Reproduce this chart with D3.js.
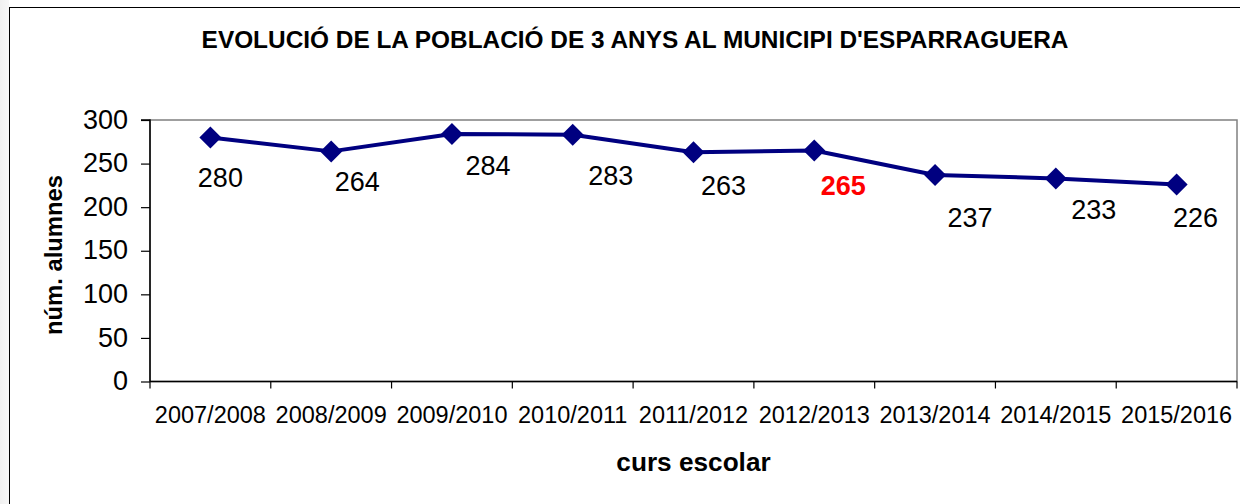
<!DOCTYPE html>
<html>
<head>
<meta charset="utf-8">
<script src="https://cdn.jsdelivr.net/npm/d3@7"></script>
<style>
html,body{margin:0;padding:0;background:#fff;}
svg{display:block;font-family:"Liberation Sans",Arial,sans-serif;}
</style>
</head>
<body>
<svg id="chart" width="1240" height="504"></svg>
<script>
// ---- data ----
const categories = ["2007/2008","2008/2009","2009/2010","2010/2011","2011/2012","2012/2013","2013/2014","2014/2015","2015/2016"];
const values = [280, 264, 284, 283, 263, 265, 237, 233, 226];
const yTicks = [0, 50, 100, 150, 200, 250, 300];
const highlighted = ["2012/2013"];
const titleText = "EVOLUCIÓ DE LA POBLACIÓ DE 3 ANYS AL MUNICIPI D'ESPARRAGUERA";
const yTitle = "núm. alumnes";
const xTitle = "curs escolar";
// label placement offsets (layout, px relative to point)
const labelDx = [10, 26, 36, 38, 30, 29, 35, 38, 19];
const labelDy = [40, 30, 31, 40, 33, 35, 42, 31, 33];

const svg = d3.select("#chart");
const W = 1240, H = 504;
const plot = {left:150, top:120, right:1237, bottom:381.5};

// background strip at left & outer border
const grad = svg.append("defs").append("linearGradient").attr("id","lg").attr("x1","0").attr("x2","1");
grad.append("stop").attr("offset","0").attr("stop-color","#f0f0f0");
grad.append("stop").attr("offset","1").attr("stop-color","#f7f7f7");
svg.append("rect").attr("x",0).attr("y",0).attr("width",9).attr("height",H).attr("fill","url(#lg)");
svg.append("rect").attr("x",9.5).attr("y",7.5).attr("width",1262).attr("height",520)
  .attr("fill","#fff").attr("stroke","#000").attr("stroke-width",1);

const x = d3.scaleBand().domain(categories).range([plot.left, plot.right]).padding(0);
const y = d3.scaleLinear().domain([0,300]).range([plot.bottom, plot.top]);

// plot area
svg.append("rect").attr("x",plot.left).attr("y",plot.top)
  .attr("width",plot.right-plot.left).attr("height",plot.bottom-plot.top)
  .attr("fill","#fff").attr("stroke","#808080").attr("stroke-width",1.5);

// y axis
const yAxis = d3.axisLeft(y).tickValues(yTicks).tickSize(9).tickPadding(13);
const gy = svg.append("g").attr("transform",`translate(${plot.left},0)`).call(yAxis);
gy.select(".domain").attr("stroke","#000").attr("stroke-width",1.5).attr("d",`M-9,${plot.top}H0V${plot.bottom}`);
gy.selectAll(".tick line").attr("stroke","#000").attr("stroke-width",1.2);
gy.selectAll(".tick text").attr("font-size","27px").attr("fill","#000")
  .attr("font-family","'Liberation Sans',Arial,sans-serif").attr("dy","0.3em");

// x axis
const boundaries = categories.map(c => x(c)).concat([plot.right]);
const gx = svg.append("g").attr("transform",`translate(0,${plot.bottom})`);
gx.append("line").attr("x1",plot.left).attr("x2",plot.right).attr("y1",0).attr("y2",0)
  .attr("stroke","#000").attr("stroke-width",1.5);
gx.selectAll(".xt").data(boundaries).join("line").attr("class","xt")
  .attr("x1",d=>d).attr("x2",d=>d).attr("y1",0).attr("y2",7)
  .attr("stroke","#000").attr("stroke-width",1.2);
gx.selectAll(".xl").data(categories).join("text").attr("class","xl")
  .attr("x",d=>x(d)+x.bandwidth()/2).attr("y",41.5)
  .attr("text-anchor","middle").attr("font-size","23.5px").attr("fill","#000").text(d=>d);

// line
const line = d3.line().x((d,i)=>x(categories[i])+x.bandwidth()/2).y(d=>y(d));
svg.append("path").datum(values).attr("d",line).attr("fill","none")
  .attr("stroke","#000080").attr("stroke-width",4).attr("stroke-linejoin","round");

// markers
const diamondType = {draw(ctx,size){const r=Math.sqrt(size/2);ctx.moveTo(0,-r);ctx.lineTo(r,0);ctx.lineTo(0,r);ctx.lineTo(-r,0);ctx.closePath();}};
svg.selectAll(".mk").data(values).join("path").attr("class","mk")
  .attr("transform",(d,i)=>`translate(${x(categories[i])+x.bandwidth()/2},${y(d)})`)
  .attr("d",d3.symbol().type(diamondType).size(242)())
  .attr("fill","#000080");

// data labels
svg.selectAll(".dl").data(values).join("text").attr("class","dl")
  .attr("x",(d,i)=>x(categories[i])+x.bandwidth()/2+labelDx[i])
  .attr("y",(d,i)=>y(d)+labelDy[i])
  .attr("dy","0.36em").attr("text-anchor","middle")
  .attr("font-size","27px")
  .attr("font-weight",(d,i)=>highlighted.includes(categories[i])?"bold":"normal")
  .attr("fill",(d,i)=>highlighted.includes(categories[i])?"#ff0000":"#000")
  .text(d=>d);

// titles
svg.append("text").attr("x",635).attr("y",48.3).attr("text-anchor","middle")
  .attr("font-size","24.4px").attr("font-weight","bold").text(titleText);
svg.append("text").attr("transform",`translate(62,255) rotate(-90)`).attr("text-anchor","middle")
  .attr("font-size","23.8px").attr("font-weight","bold").text(yTitle);
svg.append("text").attr("x",(plot.left+plot.right)/2).attr("y",470.7).attr("text-anchor","middle")
  .attr("font-size","26.2px").attr("font-weight","bold").text(xTitle);
</script>
</body>
</html>
